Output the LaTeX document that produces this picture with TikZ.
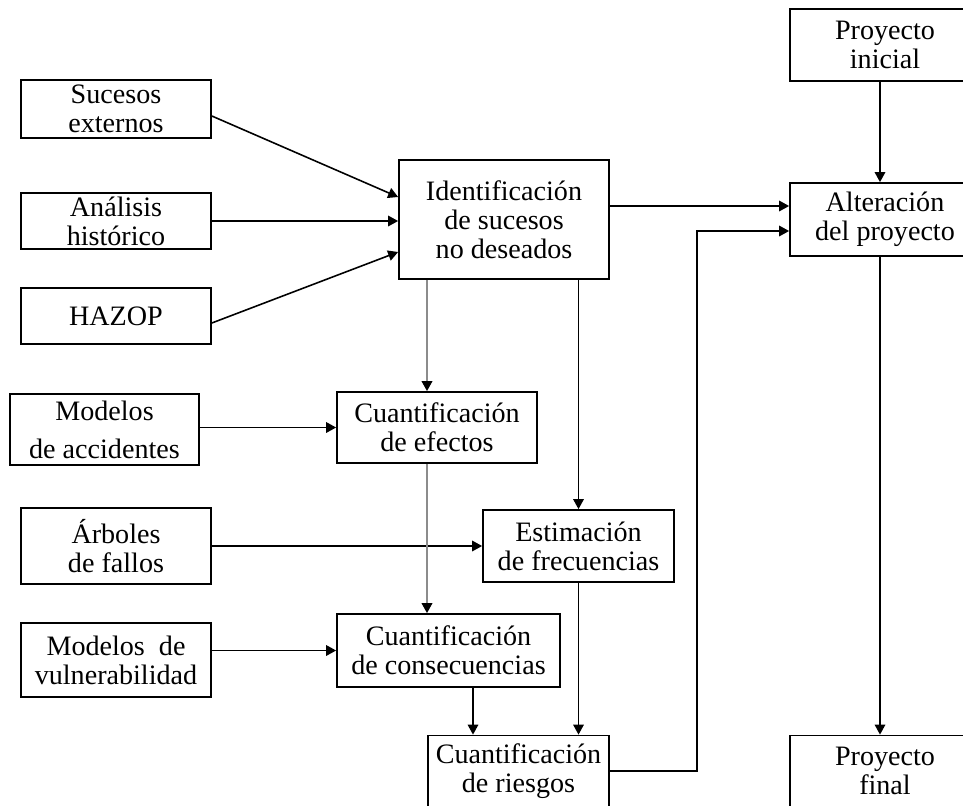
\documentclass[tikz,border=0pt]{standalone}
\usepackage{fontspec}
\setmainfont{Liberation Serif}
\usepackage{tikz}
\usetikzlibrary{arrows.meta,positioning}

\begin{document}
\begin{tikzpicture}[x=0.02cm,y=-0.02cm,
box/.style={draw,line width=1pt,inner sep=0pt,align=center,font=\fontsize{16}{16.5}\selectfont},
arr/.style={-{Triangle[length=2mm,width=2.1mm]},line width=0.9pt},
garr/.style={-{Triangle[length=2mm,width=2.1mm,color=black]},line width=1.1pt,draw=black!45}]
\useasboundingbox (0,0) rectangle (963,805);
\clip (0,0) rectangle (963,805);
% inputs on the left
\node[box,minimum width=3.8cm,minimum height=1.16cm] (ext) at (116,109) {Sucesos\\externos};
\node[box,minimum width=3.8cm,minimum height=1.12cm] (hist) at (116,221) {Análisis\\histórico};
\node[box,minimum width=3.8cm,minimum height=1.12cm] (hazop) at (116,316) {HAZOP};
\node[box,minimum width=3.78cm,minimum height=1.42cm] (acc) at (104.5,429.5) {Modelos\\[5pt]de accidentes};
\node[box,minimum width=3.8cm,minimum height=1.52cm] (arb) at (116,546) {Árboles\\de fallos};
\node[box,minimum width=3.8cm,minimum height=1.48cm] (vul) at (116,660) {Modelos\ \ de\\vulnerabilidad};
% analysis chain
\node[box,minimum width=4.2cm,minimum height=2.38cm] (ident) at (504,219.5) {Identificación\\de sucesos\\no deseados};
\node[box,minimum width=4cm,minimum height=1.42cm] (efe) at (437,427.5) {Cuantificación\\de efectos};
\node[box,minimum width=3.82cm,minimum height=1.44cm] (frec) at (578.5,546) {Estimación\\de frecuencias};
\node[box,minimum width=4.46cm,minimum height=1.46cm] (cons) at (448.5,650.5) {Cuantificación\\de consecuencias};
\node[box,minimum width=3.62cm,minimum height=1.42cm] (ries) at (518.5,771) {Cuantificación\\de riesgos};
% project column
\node[box,minimum width=3.8cm,minimum height=1.44cm] (ini) at (885,45) {Proyecto\\inicial};
\node[box,minimum width=3.8cm,minimum height=1.46cm] (alt) at (885,219.5) {Alteración\\del proyecto};
\node[box,minimum width=3.8cm,minimum height=1.42cm] (fin) at (885,771) {Proyecto\\final};
% helper columns
\coordinate (gcol) at (427,0);
\coordinate (ccol) at (473,0);
\coordinate (pcol) at (880,0);
\coordinate (bend) at (697,0);
\coordinate (altin) at ([yshift=-2.3mm]alt.west);
\draw[arr] ([yshift=-1.4mm]ext.east) -- ([yshift=4.5mm]ident.west);
\draw[arr] (hist.east) -- (hist.east -| ident.west);
\draw[arr] ([yshift=-1.4mm]hazop.east) -- ([yshift=-6.5mm]ident.west);
\draw[garr] (gcol |- ident.south) -- (gcol |- efe.north);
\draw[arr] (frec.north |- ident.south) -- (frec.north);
\draw[arr] (acc.east |- efe.west) -- (efe.west);
\draw[arr] (arb.east) -- (frec.west);
\draw[garr] (gcol |- efe.south) -- (gcol |- cons.north);
\draw[arr] (vul.east |- cons.west) -- (cons.west);
\draw[arr] (ccol |- cons.south) -- (ccol |- ries.north);
\draw[arr] (frec.south) -- (frec.south |- ries.north);
\draw[arr] ([yshift=2.7mm]ident.east) -- ([yshift=2.7mm]alt.west);
\draw[arr] (ries.east) -| (bend |- altin) -- (altin);
\draw[arr] (pcol |- ini.south) -- (pcol |- alt.north);
\draw[arr] (pcol |- alt.south) -- (pcol |- fin.north);
\end{tikzpicture}
\end{document}
